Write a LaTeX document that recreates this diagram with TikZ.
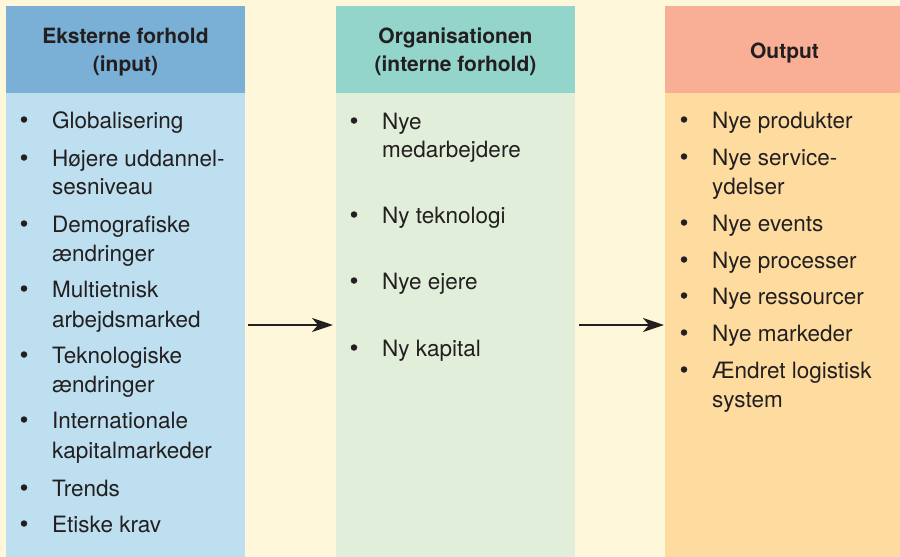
\documentclass[tikz,border=0pt]{standalone}
\usepackage{fontspec}
\setmainfont{TeX Gyre Heros}
\usetikzlibrary{arrows.meta}
\definecolor{paper}{HTML}{FFF7D9}
\definecolor{ink}{HTML}{231F20}
\definecolor{inhead}{HTML}{7AB0D5}
\definecolor{inbody}{HTML}{BDDFF0}
\definecolor{orghead}{HTML}{93D5CB}
\definecolor{orgbody}{HTML}{E1EFDA}
\definecolor{outhead}{HTML}{F9AF96}
\definecolor{outbody}{HTML}{FEDC9F}
\begin{document}
\begin{tikzpicture}[x=1pt,y=-1pt,
  panel/.style={rectangle, draw=none, inner sep=0pt, minimum width=239pt},
  headbox/.style={panel, minimum height=87pt},
  bodybox/.style={panel, minimum height=464pt},
  htext/.style={font=\fontsize{21}{27}\selectfont\bfseries, text=ink, inner sep=0pt, anchor=base},
  itext/.style={font=\fontsize{22.5}{29}\selectfont, text=ink, inner sep=0pt, anchor=base west},
  dot/.style={circle, fill=ink, draw=none, inner sep=0pt, minimum size=6.5pt},
  flow/.style={draw=ink, line width=2.4pt, -{Stealth[length=21pt,width=14pt,inset=6pt]}}]

% page and clipping
\fill[paper] (0,0) rectangle (900,557);
\useasboundingbox (0,0) rectangle (900,557);
\clip (0,0) rectangle (900,557);

% three columns
\node[headbox, fill=inhead]  (h1) at (125.5,49.5) {};
\node[bodybox, fill=inbody]  (b1) at (125.5,325) {};
\node[headbox, fill=orghead] (h2) at (455.5,49.5) {};
\node[bodybox, fill=orgbody] (b2) at (455.5,325) {};
\node[headbox, fill=outhead] (h3) at (784.5,49.5) {};
\node[bodybox, fill=outbody] (b3) at (784.5,325) {};

% headings
\node[htext] (t1a) at (125.5,43) {Eksterne forhold};
\node[htext] (t1b) at (125.5,71) {(input)};
\node[htext] (t2a) at (455.5,43) {Organisationen};
\node[htext] (t2b) at (455.5,71) {(interne forhold)};
\node[htext] (t3a) at (784.5,58) {Output};

% external conditions
\foreach \ty/\tx [count=\i] in {128/Globalisering, 166/Højere uddannel-, 194/sesniveau,
    232/Demografiske, 261/ændringer, 297/Multietnisk, 327/arbejdsmarked,
    363/Teknologiske, 392/ændringer, 428/Internationale, 458/kapitalmarkeder,
    496/Trends, 532/Etiske krav}
  \node[itext] (L\i) at (52,\ty) {\tx};
\foreach \ty [count=\i] in {128,166,232,297,363,428,496,532}
  \node[dot] (Lb\i) at (24,\ty-8.5) {};

% internal conditions
\foreach \ty/\tx [count=\i] in {129/Nye, 157/medarbejdere, 223/Ny teknologi,
    289/Nye ejere, 356/Ny kapital}
  \node[itext] (M\i) at (382,\ty) {\tx};
\foreach \ty [count=\i] in {129,223,289,356}
  \node[dot] (Mb\i) at (354,\ty-8.5) {};

% output
\foreach \ty/\tx [count=\i] in {128/Nye produkter, 165/Nye service-, 194/ydelser,
    231/Nye events, 268/Nye processer, 304/Nye ressourcer, 341/Nye markeder,
    378/Ændret logistisk, 407/system}
  \node[itext] (R\i) at (712,\ty) {\tx};
\foreach \ty [count=\i] in {128,165,231,268,304,341,378}
  \node[dot] (Rb\i) at (684,\ty-8.5) {};

% flow between columns
\coordinate (f1s) at (248,325);
\coordinate (f1e) at (333,325);
\coordinate (f2s) at (579,325);
\coordinate (f2e) at (664,325);
\draw[flow] (f1s) -- (f1e);
\draw[flow] (f2s) -- (f2e);
\end{tikzpicture}
\end{document}
